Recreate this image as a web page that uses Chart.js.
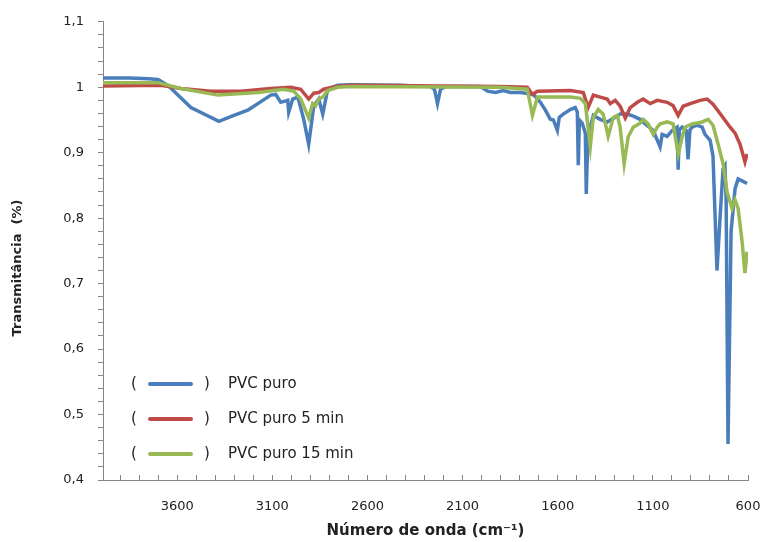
<!DOCTYPE html>
<html>
<head>
<meta charset="utf-8">
<script src="https://cdn.jsdelivr.net/npm/chart.js@4.4.0/dist/chart.umd.min.js"></script>
<style>
  html, body { margin: 0; padding: 0; background: #fff; }
</style>
</head>
<body>
<canvas id="GraficaFTIR" width="766" height="542"></canvas>
<script>
// rótulos dos eixos
const rotulosX = [3600, 3100, 2600, 2100, 1600, 1100, 600];
const rotulosY = [0.4, 0.5, 0.6, 0.7, 0.8, 0.9, 1.0, 1.1];

// PVC puro
const ondaPuro = [3990, 3850, 3750, 3701, 3649, 3528, 3381, 3302, 3229, 3108, 3082, 3056, 3019, 3014, 2993, 2966,
    2935, 2909, 2882, 2856, 2835, 2809, 2757, 2688, 2426, 2269, 2248, 2232, 2216, 2190, 2006, 1969, 1927, 1886,
    1849, 1796, 1728, 1691, 1665, 1639, 1623, 1602, 1592, 1571, 1534, 1508, 1497, 1492, 1486, 1471, 1455, 1450,
    1444, 1434, 1413, 1377, 1340, 1298, 1272, 1235, 1203, 1167, 1140, 1098, 1062, 1051, 1025, 999, 973, 967, 961,
    946, 925, 915, 905, 894, 868, 841, 826, 799, 784, 763, 747, 731, 721, 715, 705, 689, 668, 652, 631, 605];
const transPuro = [1.014, 1.014, 1.013, 1.012, 1.003, 0.969, 0.948, 0.957, 0.965, 0.988, 0.989, 0.977, 0.980, 0.962, 0.982, 0.985,
    0.951, 0.913, 0.972, 0.982, 0.959, 0.997, 1.003, 1.004, 1.003, 1.001, 0.997, 0.975, 0.997, 1.001, 1.001, 0.994, 0.992, 0.995,
    0.992, 0.992, 0.989, 0.977, 0.965, 0.951, 0.950, 0.934, 0.954, 0.959, 0.966, 0.969, 0.962, 0.881, 0.950, 0.945, 0.930, 0.837,
    0.900, 0.934, 0.957, 0.951, 0.947, 0.954, 0.959, 0.959, 0.956, 0.951, 0.944, 0.934, 0.909, 0.928, 0.925, 0.934, 0.939, 0.874, 0.935,
    0.939, 0.934, 0.890, 0.935, 0.939, 0.942, 0.939, 0.928, 0.919, 0.895, 0.720, 0.800, 0.875, 0.880, 0.830, 0.455, 0.780, 0.845, 0.860, 0.857, 0.853];

// PVC puro 5 min
const ondaPuro5 = [3990, 3685, 3580, 3423, 3265, 3108, 3003, 2951, 2909, 2882, 2856, 2830, 2767, 2688, 1901, 1760, 1733,
    1707, 1534, 1466, 1440, 1413, 1377, 1340, 1324, 1298, 1272, 1245, 1219, 1182, 1151, 1114, 1077, 1025, 994, 967,
    941, 904, 852, 815, 784, 747, 694, 668, 642, 616, 605];
const transPuro5 = [1.002, 1.003, 0.998, 0.994, 0.994, 0.998, 1.000, 0.997, 0.982, 0.991, 0.992, 0.997, 1.001, 1.003, 1.001, 1.000, 0.989,
    0.994, 0.995, 0.992, 0.969, 0.988, 0.985, 0.982, 0.975, 0.980, 0.971, 0.953, 0.969, 0.977, 0.982, 0.975, 0.980, 0.977, 0.972, 0.957,
    0.971, 0.975, 0.980, 0.982, 0.974, 0.960, 0.939, 0.930, 0.913, 0.886, 0.898];

// PVC puro 15 min
const ondaPuro15 = [3990, 3701, 3580, 3386, 3176, 3040, 2987, 2951, 2909, 2888, 2872, 2856, 2835, 2809, 2757, 2688, 1901,
    1760, 1733, 1707, 1639, 1534, 1481, 1455, 1429, 1413, 1387, 1361, 1335, 1308, 1287, 1272, 1251, 1230, 1203, 1167,
    1151, 1125, 1098, 1077, 1062, 1025, 994, 967, 946, 931, 894, 841, 810, 784, 757, 731, 710, 684, 668, 652, 631, 616, 605];
const transPuro15 = [1.007, 1.007, 0.998, 0.988, 0.992, 0.997, 0.994, 0.982, 0.953, 0.975, 0.972, 0.982, 0.985, 0.995, 1.000, 1.001, 1.000,
    0.997, 0.957, 0.985, 0.985, 0.985, 0.983, 0.975, 0.909, 0.954, 0.966, 0.959, 0.925, 0.954, 0.957, 0.939, 0.883, 0.924, 0.939, 0.945,
    0.951, 0.944, 0.928, 0.939, 0.944, 0.947, 0.944, 0.898, 0.924, 0.939, 0.944, 0.947, 0.951, 0.942, 0.913, 0.883, 0.840, 0.815, 0.828, 0.815, 0.764, 0.716, 0.749];

function pontos(onda, trans) {
    return onda.map((x, i) => ({ x: x, y: trans[i] }));
}

const corEixo = '#868686';
const corTexto = '#222';

// legenda "(  ——  )  nome" e título do eixo Y
const legendaManual = {
    id: 'legendaManual',
    afterDraw(chart) {
        const ctx = chart.ctx;
        ctx.save();
        ctx.font = '15px "DejaVu Sans"';
        ctx.textBaseline = 'middle';
        chart.data.datasets.forEach((ds, i) => {
            const y = 384 + i * 35;
            ctx.fillStyle = corTexto;
            ctx.fillText('(', 131, y);
            ctx.fillText(')', 204, y);
            ctx.fillText(ds.label, 228, y);
            ctx.strokeStyle = ds.borderColor;
            ctx.lineWidth = 4;
            ctx.lineCap = 'round';
            ctx.beginPath();
            ctx.moveTo(150, y);
            ctx.lineTo(191, y);
            ctx.stroke();
        });

        ctx.translate(18, 268);
        ctx.rotate(-Math.PI / 2);
        ctx.font = 'bold 13px "DejaVu Sans"';
        ctx.textAlign = 'center';
        ctx.fillStyle = corTexto;
        ctx.fillText('Transmitância  (%)', 0, 0);
        ctx.restore();
    }
};

new Chart(document.getElementById('GraficaFTIR'), {
    type: 'line',
    data: {
        datasets: [
            { label: 'PVC puro', data: pontos(ondaPuro, transPuro), borderColor: '#4A7EBB', order: 3 },
            { label: 'PVC puro 5 min', data: pontos(ondaPuro5, transPuro5), borderColor: '#BE4B48', order: 2 },
            { label: 'PVC puro 15 min', data: pontos(ondaPuro15, transPuro15), borderColor: '#98B954', order: 1 }
        ]
    },
    options: {
        responsive: false,
        devicePixelRatio: 1,
        animation: false,
        layout: { padding: { top: 19, right: 18, left: 0, bottom: 0 } },
        elements: {
            line: { borderWidth: 3.5, tension: 0, fill: false },
            point: { radius: 0 }
        },
        plugins: {
            legend: { display: false },
            tooltip: { enabled: false }
        },
        scales: {
            x: {
                type: 'linear',
                reverse: true,
                min: 600,
                max: 3990,
                afterFit: s => { s.height = 62; },
                afterBuildTicks: s => {
                    const t = [];
                    for (let v = 600; v <= 3900; v += 100) t.push({ value: v });
                    s.ticks = t;
                },
                ticks: {
                    autoSkip: false,
                    maxRotation: 0,
                    padding: 24,
                    color: corTexto,
                    font: { family: 'DejaVu Sans', size: 13 },
                    callback: v => rotulosX.includes(v) ? String(v) : ''
                },
                grid: { drawOnChartArea: false, tickLength: -5, color: corEixo },
                border: { color: corEixo },
                title: {
                    display: true,
                    text: 'Número de onda (cm⁻¹)',
                    color: corTexto,
                    font: { family: 'DejaVu Sans', size: 15, weight: 'bold' },
                    padding: { top: 0, bottom: 2 }
                }
            },
            y: {
                min: 0.4,
                max: 1.1,
                afterFit: s => { s.width = 103; },
                afterBuildTicks: s => {
                    const t = [];
                    for (let v = 40; v <= 110; v += 2) t.push({ value: v / 100 });
                    s.ticks = t;
                },
                ticks: {
                    autoSkip: false,
                    padding: 14,
                    color: corTexto,
                    font: { family: 'DejaVu Sans', size: 13 },
                    callback: v => {
                        const r = rotulosY.find(t => Math.abs(t - v) < 1e-6);
                        return r === undefined ? '' : String(r).replace('.', ',');
                    }
                },
                grid: { drawOnChartArea: false, tickLength: 5, color: corEixo },
                border: { color: corEixo }
            }
        }
    },
    plugins: [legendaManual]
});
</script>
</body>
</html>
